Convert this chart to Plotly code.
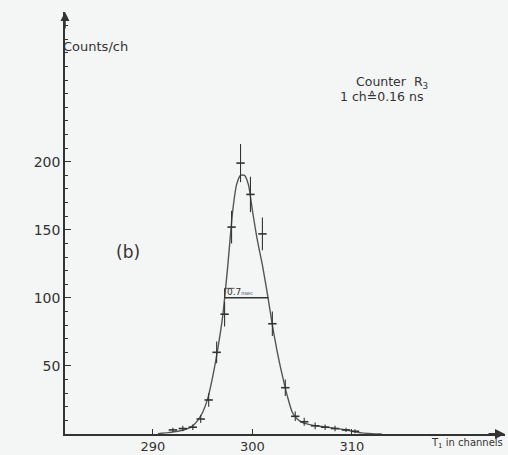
import plotly.graph_objects as go

# Fitted curve (channel, counts/ch)
curve_ch = [290.5, 291.5, 292.5, 293.5, 294.0, 294.5, 295.0, 295.5, 296.0, 296.5, 297.0,
            297.5, 298.0, 298.4, 298.8, 299.2, 299.6, 300.0, 300.5, 301.0, 301.5,
            302.0, 302.5, 303.0, 303.5, 304.0, 304.5, 305.0, 306.0, 307.0, 308.0,
            309.0, 310.0, 311.0, 312.0, 313.0]
curve_val = [0.3, 1.0, 2.0, 4.0, 6, 10, 16, 26, 42, 62, 86,
             122, 163, 183, 190, 190, 183, 164, 142, 124, 103,
             80, 60, 43, 28, 16, 11, 8.5, 6.5, 5.5, 4.5,
             3.5, 2.0, 0.8, 0.3, 0.0]

# Measured points with error bars
pt_ch = [292.0, 293.0, 294.0, 294.8, 295.6, 296.4, 297.2, 297.9, 298.8, 299.8,
         301.0, 302.0, 303.3, 304.3, 305.2, 306.3, 307.3, 308.3, 309.4, 310.3]
pt_val = [3, 4, 5, 11, 25, 60, 88, 152, 199, 176,
          147, 81, 34, 13, 9, 6, 5, 4, 3, 2]
pt_err = [1.5, 2, 2, 3, 5, 8, 9, 12, 14, 13,
          12, 9, 6, 3.5, 3, 2.5, 2, 2, 1.5, 1.5]

# FWHM marker
fwhm_left, fwhm_right, fwhm_level = 297.2, 301.6, 100

x_ticks = [290, 300, 310]
y_ticks = [50, 100, 150, 200]

ink = "#333333"
bg = "#f4f6f5"

fig = go.Figure()
fig.add_trace(go.Scatter(x=curve_ch, y=curve_val, mode="lines",
                         line=dict(color="#555555", width=1.4, shape="spline", smoothing=0.6),
                         hoverinfo="skip", showlegend=False))
fig.add_trace(go.Scatter(x=pt_ch, y=pt_val, mode="markers",
                         marker=dict(symbol="line-ew", size=6, line=dict(color=ink, width=1.6)),
                         error_y=dict(type="data", array=pt_err, width=0, thickness=1.1, color=ink),
                         showlegend=False))

# FWHM bracket
fig.add_shape(type="line", x0=fwhm_left, x1=fwhm_right, y0=fwhm_level, y1=fwhm_level,
              line=dict(color=ink, width=1.5))
fig.add_shape(type="line", x0=fwhm_left, x1=fwhm_left, y0=fwhm_level, y1=fwhm_level + 7,
              line=dict(color=ink, width=1))
fig.add_shape(type="line", x0=fwhm_left, x1=fwhm_left + 1.0, y0=fwhm_level + 7, y1=fwhm_level + 7,
              line=dict(color=ink, width=0.8))
fig.add_annotation(x=fwhm_left + 0.05, y=fwhm_level, xanchor="left", yanchor="bottom",
                   text="0.7<span style='font-size:5px'>nsec</span>", showarrow=False,
                   font=dict(size=9, color=ink, family="DejaVu Sans"), yshift=-1)

tf = dict(family="DejaVu Sans", color=ink)
fig.add_annotation(xref="paper", yref="paper", x=0.0, y=0.918, xanchor="left", yanchor="middle",
                   text="Counts/ch", showarrow=False, font=dict(size=13, **tf), xshift=-4)
fig.add_annotation(x=287.5, y=134, xanchor="center", yanchor="middle",
                   text="(b)", showarrow=False, font=dict(size=17, **tf))
fig.add_annotation(x=314.0, y=258, xanchor="center", yanchor="middle",
                   text="Counter  R<sub>3</sub>", showarrow=False, font=dict(size=12.5, **tf))
fig.add_annotation(x=313.0, y=248, xanchor="center", yanchor="middle",
                   text="1 ch≙0.16 ns", showarrow=False, font=dict(size=12.5, **tf))
fig.add_annotation(xref="paper", yref="paper", x=1.0, y=0.0, xanchor="right", yanchor="top",
                   text="T<sub>1</sub> in channels", showarrow=False,
                   font=dict(size=10, **tf), yshift=-1)

# axis arrows
fig.add_annotation(xref="paper", yref="paper", x=0, y=1.0, ax=0, ay=18, text="",
                   showarrow=True, arrowhead=2, arrowsize=1.2, arrowwidth=1.5, arrowcolor=ink)
fig.add_annotation(xref="paper", yref="paper", x=1.0, y=0, ax=-18, ay=0, text="",
                   showarrow=True, arrowhead=2, arrowsize=1.0, arrowwidth=2, arrowcolor=ink)

fig.update_layout(
    width=508, height=455,
    margin=dict(l=65, r=3, t=12, b=21),
    paper_bgcolor=bg, plot_bgcolor=bg,
    font=dict(family="DejaVu Sans", color=ink),
    showlegend=False,
)
fig.update_xaxes(range=[281.16, 325.38], tickvals=x_ticks, ticks="inside", ticklen=5,
                 tickcolor=ink, showline=True, linecolor=ink, linewidth=1.5,
                 showgrid=False, zeroline=False, tickfont=dict(size=13, color=ink),
                 automargin=False)
fig.update_yaxes(range=[0, 310], tickvals=y_ticks, ticks="inside",
                 ticklen=6, tickcolor=ink, showline=True, linecolor=ink, linewidth=1.5,
                 showgrid=False, zeroline=False, tickfont=dict(size=14, color=ink),
                 minor=dict(dtick=10, ticks="inside", ticklen=3, tickcolor=ink, showgrid=False),
                 automargin=False)

fig.write_html("out.html")
